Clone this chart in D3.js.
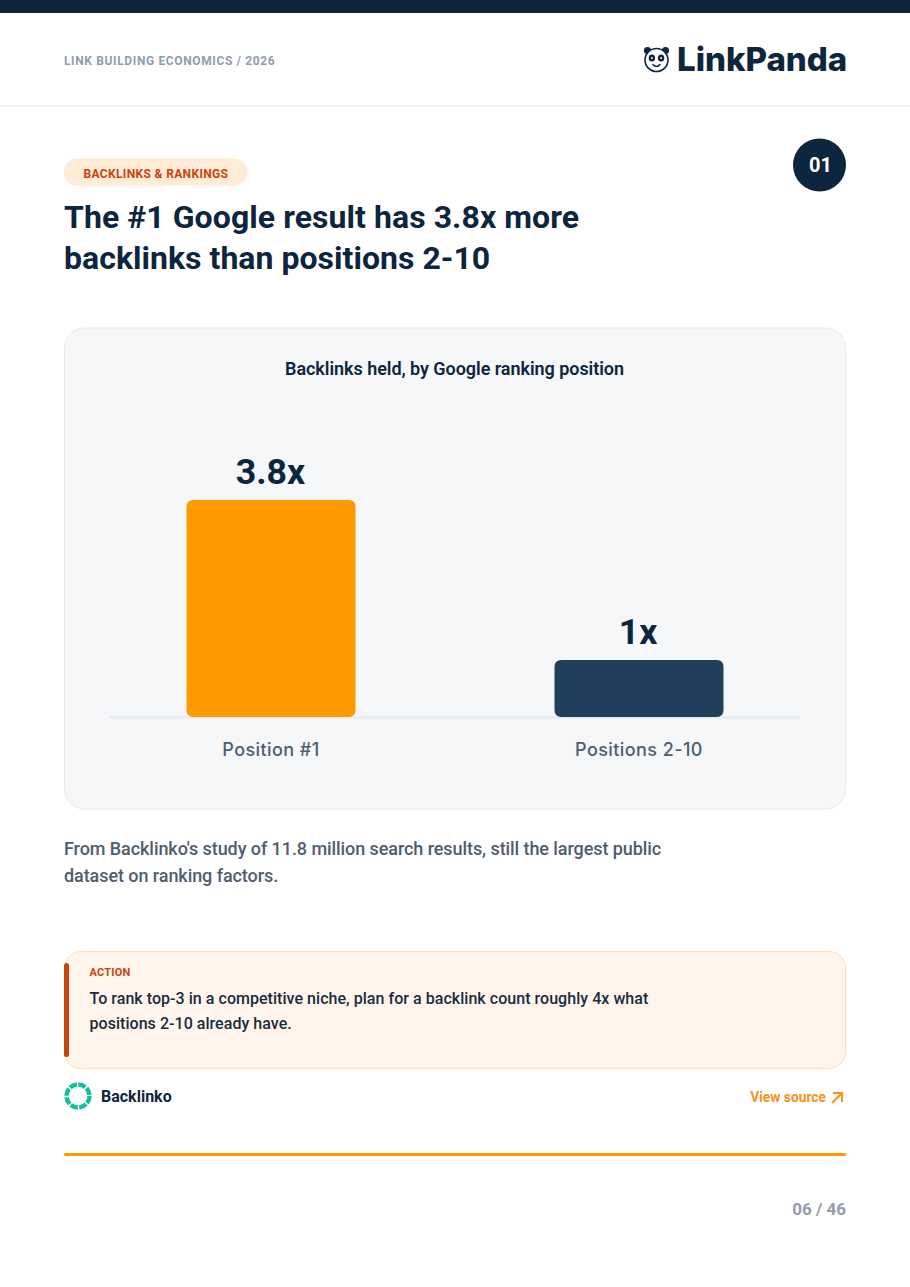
<!DOCTYPE html>
<html><head><meta charset="utf-8">
<script src="https://cdn.jsdelivr.net/npm/d3@7/dist/d3.min.js"></script>
<style>html,body{margin:0;padding:0;background:#fff}svg{display:block}text{font-family:Roboto,sans-serif}</style>
</head><body><svg id="c" width="910" height="1287"></svg>
<script>
const categories=["Position #1","Positions 2-10"];
const values=[3.8,1];
const valueLabels=["3.8x","1x"];
const barColors=["#FF9900","#1F3F5B"];
const navy="#0D253D",grey="#4F5D6E",muted="#929DAB",rust="#C8440E",orange="#F7931E";
const svg=d3.select("#c");
function T(x,y,s,size,weight,fill,anchor,font,ls){
  const t=svg.append("text").attr("x",x).attr("y",y).text(s).attr("font-size",size).attr("font-weight",weight).attr("fill",fill).attr("text-anchor",anchor||"start");
  if(font)t.style("font-family",font); if(ls)t.attr("letter-spacing",ls); return t;
}
function R(x,y,w,h,r,fill,stroke){
  return svg.append("rect").attr("x",x).attr("y",y).attr("width",w).attr("height",h).attr("rx",r).attr("fill",fill).attr("stroke",stroke||"none");
}
// header
R(0,0,910,13,0,navy);
R(0,105,910,2,0,"#F1F2F4");
T(64,65,"LINK BUILDING ECONOMICS / 2026",12,700,muted,"start",null,0.63);
// logo
T(677,71,"LinkPanda",33,800,navy,"start","Inter",0);
const p=svg.append("g").attr("transform","translate(656.5,60)");
p.append("circle").attr("cx",-9).attr("cy",-9.5).attr("r",3.6).attr("fill",navy);
p.append("circle").attr("cx",9).attr("cy",-9.5).attr("r",3.6).attr("fill",navy);
p.append("circle").attr("r",11.5).attr("fill","#fff").attr("stroke",navy).attr("stroke-width",1.6);
p.append("ellipse").attr("cx",-4.6).attr("cy",-2).attr("rx",3.2).attr("ry",3.6).attr("fill",navy);
p.append("ellipse").attr("cx",4.6).attr("cy",-2).attr("rx",3.2).attr("ry",3.6).attr("fill",navy);
p.append("circle").attr("cx",-4.6).attr("cy",-2).attr("r",1).attr("fill","#fff");
p.append("circle").attr("cx",4.6).attr("cy",-2).attr("r",1).attr("fill","#fff");
p.append("path").attr("d","M-3.5 4.5Q0 8.5 3.5 4.5").attr("fill","none").attr("stroke",navy).attr("stroke-width",1.5).attr("stroke-linecap","round");
// tag + number
R(64,158.5,183.5,27,13.5,"#FFEBD6");
T(83.5,178,"BACKLINKS & RANKINGS",12,700,rust,"start",null,0.35);
svg.append("circle").attr("cx",819.5).attr("cy",165).attr("r",26.5).attr("fill",navy);
T(820.5,172,"01",20,700,"#fff","middle");
// title
T(64,228,"The #1 Google result has 3.8x more",32,700,navy,"start",null,0.07);
T(64,269,"backlinks than positions 2-10",32,700,navy,"start",null,0.03);
// chart card
R(64.5,328,781,481,20,"#F5F7F9","#E8EAEE");
T(454.5,375,"Backlinks held, by Google ranking position",18,600,navy,"middle",null,-0.05);
const x=d3.scaleBand().domain(categories).range([110,800]).paddingInner(0.5408).paddingOuter(0.2079);
const y=d3.scaleLinear().domain([0,3.8]).range([717,500]);
R(110,716,690,2.5,0,"#E5ECF1");
function roundTop(xp,yp,w,h,r){
  return `M${xp} ${yp+r}Q${xp} ${yp} ${xp+r} ${yp}H${xp+w-r}Q${xp+w} ${yp} ${xp+w} ${yp+r}V${yp+h-r}Q${xp+w} ${yp+h} ${xp+w-r} ${yp+h}H${xp+r}Q${xp} ${yp+h} ${xp} ${yp+h-r}Z`;
}
const labelShift=[-0.5,-1];
categories.forEach((c,i)=>{
  const bx=x(c),bw=x.bandwidth(),cx=bx+bw/2;
  svg.append("path").attr("d",roundTop(bx,y(values[i]),bw,y(0)-y(values[i]),7)).attr("fill",barColors[i]);
  T(cx+labelShift[i],y(values[i])-16,valueLabels[i],35.7,700,navy,"middle");
  T(cx,756,c,18,500,grey,"middle","Inter",0.42);
});
// note
T(64,855,"From Backlinko's study of 11.8 million search results, still the largest public",18,500,grey,"start","Roboto",-0.075);
T(64,882,"dataset on ranking factors.",18,500,grey,"start","Roboto",-0.075);
// action
R(64.5,951.5,781,117,16,"#FFF5EC","#FFDFB5");
R(64,963,5,94,2.5,rust);
T(89.5,976,"ACTION",11,700,rust,"start",null,0.2);
T(89.5,1004,"To rank top-3 in a competitive niche, plan for a backlink count roughly 4x what",16,500,"#1A2B3D","start",null,0.04);
T(89.5,1029,"positions 2-10 already have.",16,500,"#1A2B3D","start",null,0.04);
// source
svg.append("circle").attr("cx",78).attr("cy",1096).attr("r",11.5).attr("fill","none").attr("stroke","#14C09A").attr("stroke-width",4.5).attr("stroke-dasharray","7.6 1.43");
T(101,1102,"Backlinko",16,700,navy);
T(826,1102,"View source",13.8,700,orange,"end");
svg.append("path").attr("d","M832 1103L842 1093M833 1093H842V1102").attr("fill","none").attr("stroke",orange).attr("stroke-width",2.2);
R(64,1153,782,3,1.5,"#FF9900");
T(846,1215,"06 / 46",17,700,muted,"end");
</script></body></html>
